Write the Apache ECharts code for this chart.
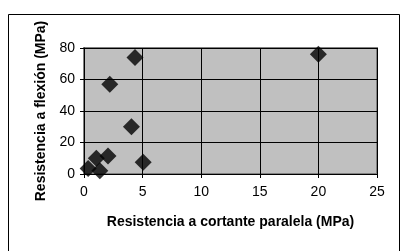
<!DOCTYPE html>
<html>
<head>
<meta charset="utf-8">
<script src="https://cdn.jsdelivr.net/npm/echarts@6/dist/echarts.min.js"></script>
<style>
html, body { margin: 0; padding: 0; background: #fff; }
#chart { width: 404px; height: 251px; }
</style>
</head>
<body>
<div id="chart"></div>
<script>
// resistencia a cortante paralela (x) y a flexión (y), MPa
var cortante = [4.35, 20, 2.2, 4.05, 5.05, 2.05, 1.05, 0.35, 1.35];
var flexion = [74, 76, 57, 30, 7.5, 11.5, 10, 3.5, 2];

var puntos = [];
for (var i = 0; i < cortante.length; i++) {
    puntos.push([cortante[i], flexion[i]]);
}

var myChart = echarts.init(document.getElementById('chart'));
var option = {
    backgroundColor: '#fff',
    animation: false,
    textStyle: {
        fontFamily: 'Liberation Sans'
    },
    graphic: [{
        type: 'rect',
        shape: { x: 8.5, y: 14.5, width: 391, height: 260 },
        style: { fill: 'none', stroke: '#000', lineWidth: 1 },
        z: -1
    }],
    grid: {
        left: 84,
        right: 27,
        top: 48,
        bottom: 77,
        show: true,
        backgroundColor: '#c0c0c0',
        borderColor: '#808080',
        borderWidth: 2
    },
    xAxis: {
        type: 'value',
        min: 0,
        max: 25,
        interval: 5,
        name: 'Resistencia a cortante paralela (MPa)',
        nameLocation: 'middle',
        nameGap: 41,
        nameTextStyle: { fontSize: 14, fontWeight: 'bold', color: '#000' },
        axisLine: { lineStyle: { color: '#000', width: 1 } },
        axisTick: { show: true, length: 4, lineStyle: { color: '#000' } },
        axisLabel: { fontSize: 14, color: '#000', margin: 11 },
        splitLine: { show: true, lineStyle: { color: '#000', width: 1 } }
    },
    yAxis: {
        type: 'value',
        min: 0,
        max: 80,
        interval: 20,
        name: 'Resistencia a flexión (MPa)',
        nameLocation: 'middle',
        nameGap: 35,
        nameTextStyle: { fontSize: 14, fontWeight: 'bold', color: '#000' },
        axisLine: { show: true, lineStyle: { color: '#000', width: 1 } },
        axisTick: { show: true, length: 4, lineStyle: { color: '#000' } },
        axisLabel: { fontSize: 14, color: '#000', margin: 9 },
        splitLine: { show: true, lineStyle: { color: '#000', width: 1 } }
    },
    series: [{
        type: 'scatter',
        symbol: 'diamond',
        symbolSize: 17,
        itemStyle: { color: '#000' },
        data: puntos
    }]
};
myChart.setOption(option);
</script>
</body>
</html>
